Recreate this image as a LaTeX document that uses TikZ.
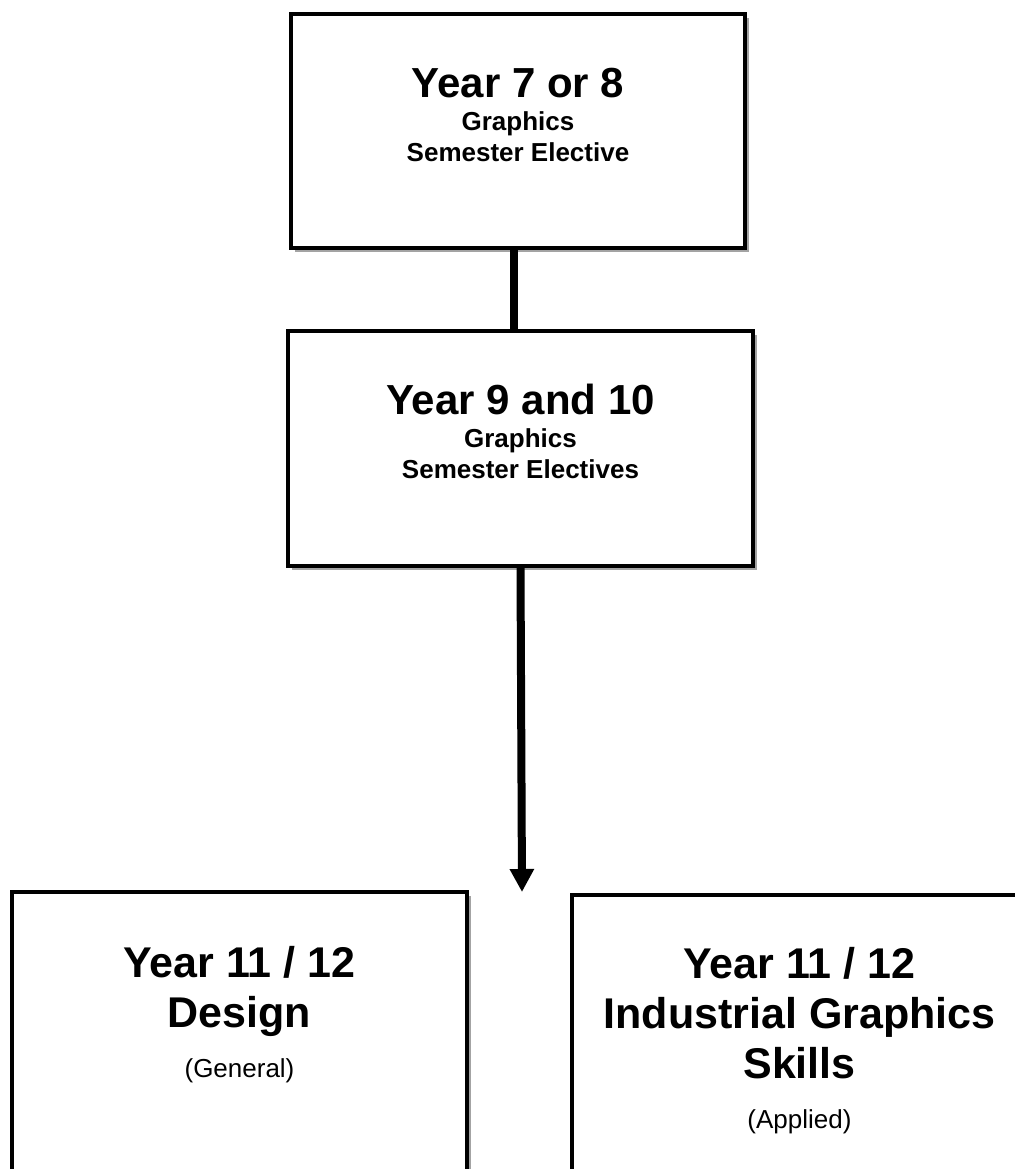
\documentclass[tikz,border=0pt]{standalone}
\usepackage{fontspec}
\setmainfont{Liberation Sans}
\usetikzlibrary{arrows.meta}
\usetikzlibrary{shadows}
\setlength{\parskip}{0pt}
\newcommand{\yeartitle}[1]{{\fontsize{21}{25}\selectfont\bfseries #1\par}}
\newcommand{\yearsub}[1]{{\fontsize{13}{15.5}\selectfont\bfseries #1\par}}
\newcommand{\seniortitle}[1]{{\fontsize{21.5}{25}\selectfont\bfseries #1\par}}
\newcommand{\seniorsub}[1]{{\fontsize{13}{25}\selectfont #1\par}}
\tikzset{yearbox/.style={draw, line width=1.75pt, fill=white, inner sep=0pt,
           drop shadow={shadow xshift=2.2pt, shadow yshift=-2.2pt, fill=black!60, opacity=0.6}},
         link/.style={line width=4pt}}

\begin{document}
\begin{tikzpicture}[x=0.5pt, y=-0.5pt]
  \path[use as bounding box, clip] (0,0) rectangle (1015,1169);
  \node[yearbox] (y78) at (518,131)
    {\parbox[c][117pt][t]{227pt}{\centering\vspace*{27pt}%
      \yeartitle{Year 7 or 8}\vspace{1pt}%
      \yearsub{Graphics\\Semester Elective}}};
  \node[yearbox] (y910) at (520.5,448.5)
    {\parbox[c][117.5pt][t]{232.5pt}{\centering\vspace*{26.5pt}%
      \yeartitle{Year 9 and 10}\vspace{1pt}%
      \yearsub{Graphics\\Semester Electives}}};
  \node[yearbox] (design) at (239.5,1042)
    {\parbox[c][150pt][t]{227.5pt}{\centering\vspace*{27pt}%
      \seniortitle{Year 11 / 12\\Design}%
      \seniorsub{(General)}}};
  \node[yearbox] (igs) at (799.5,1045)
    {\parbox[c][150pt][t]{227.5pt}{\centering\vspace*{26pt}%
      \seniortitle{Year 11 / 12\\Industrial Graphics\\Skills}%
      \seniorsub{(Applied)}}};
  \coordinate (split) at (522,892);
  \draw[link] ([xshift=-2pt]y78.south) -- ([xshift=-2pt]y78.south |- y910.north);
  \draw[link, -{Triangle[width=11.5pt, length=11.5pt]}] (y910.south) -- (split);
\end{tikzpicture}
\end{document}
